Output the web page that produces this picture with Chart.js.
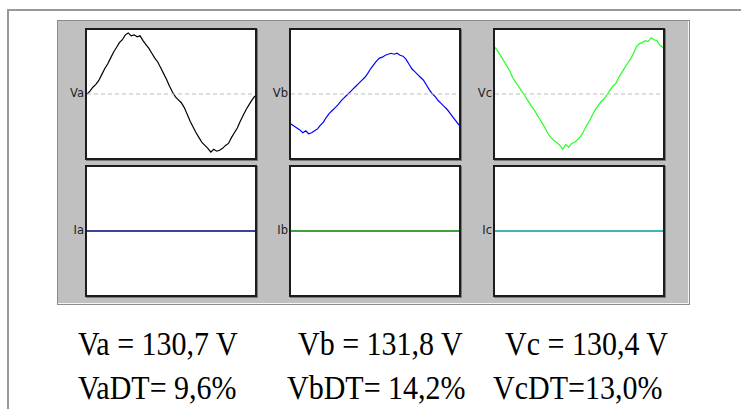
<!DOCTYPE html>
<html>
<head>
<meta charset="utf-8">
<script src="https://cdn.jsdelivr.net/npm/chart.js@4.4.1/dist/chart.umd.min.js"></script>
<style>
  body { margin: 0; width: 741px; height: 409px; background: #fff; position: relative; overflow: hidden; }
  .frameTop { position: absolute; left: 8px; top: 9px; width: 733px; height: 2px; background: #999; }
  .frameLeft { position: absolute; left: 7px; top: 9px; width: 2px; height: 400px; background: #999; }
  .panel { position: absolute; left: 57px; top: 20px; width: 631px; height: 283px; background: #c0c0c0;
           border: 1px solid #8c8c8c; box-shadow: inset -1px -1px 0 #f4f4f4; }
  .scope { position: absolute; width: 168px; height: 128px; border: 2px solid #1c1c1c; background: #fff;
           box-shadow: 1px 1px 0 #7a7a7a; }
  .scope canvas { display: block; }
  .lbl { position: absolute; font: 11.5px "DejaVu Sans", Verdana, sans-serif; color: #222; text-align: right; width: 26px; }
  .val { position: absolute; font: 30px "Liberation Serif", "Times New Roman", serif; color: #000; white-space: nowrap;
         transform: scaleY(1.12); transform-origin: 0 0; }
</style>
</head>
<body>
<div class="frameTop"></div>
<div class="frameLeft"></div>
<div class="panel"></div>
<div id="scopes"></div>

<div class="val" style="left:78px; top:325px;">Va = 130,7 V</div>
<div class="val" style="left:298px; top:325px;">Vb = 131,8 V</div>
<div class="val" style="left:505px; top:325px;">Vc = 130,4 V</div>
<div class="val" style="left:78px; top:369px;">VaDT= 9,6%</div>
<div class="val" style="left:287px; top:369px;">VbDT= 14,2%</div>
<div class="val" style="left:493px; top:369px;">VcDT=13,0%</div>

<script>
// voltage waveforms, one cycle, sampled every ~3px (arbitrary units, +-66 = full box)
const voltageA = [0, 3, 7, 10, 14, 20, 26, 31, 37, 43, 48, 53, 56, 61, 63, 60, 61, 59, 60, 55,
  51, 47, 42, 37, 33, 27, 21, 15, 8, 2, -3, -6, -9, -14, -21, -28, -34, -40, -45, -50,
  -53, -56, -60, -57, -59, -58, -56, -53, -51, -45, -40, -35, -28, -22, -16, -11, -6, -2];
const voltageB = [-31, -33, -35, -37, -40, -38, -41, -40, -38, -36, -32, -29, -24, -20, -17, -14, -11, -7, -4, -1,
  2, 5, 8, 11, 14, 17, 21, 26, 30, 34, 37, 38, 40, 41, 42, 41, 42, 40, 39, 36,
  31, 26, 23, 20, 17, 14, 9, 4, 0, -3, -7, -10, -13, -16, -20, -24, -28, -32];
const voltageC = [48, 44, 39, 34, 29, 24, 17, 12, 8, 3, -1, -6, -11, -15, -20, -25, -30, -35, -41, -45,
  -48, -50, -53, -57, -52, -55, -51, -50, -47, -44, -39, -33, -28, -22, -16, -12, -8, -5, -1, 4,
  8, 11, 17, 22, 27, 32, 36, 42, 49, 52, 53, 55, 54, 58, 56, 55, 50, 48];
// currents are flat (no load)
const currentA = [0, 0];
const currentB = [0, 0];
const currentC = [0, 0];
const midLine = [0, 0];

const voltLabels = ["Va", "Vb", "Vc"];
const currLabels = ["Ia", "Ib", "Ic"];
const voltColors = ["#000000", "#0000ff", "#22ff22"];
const currColors = ["#00007f", "#007f00", "#009a9a"];

const colLeft = [85, 289, 493];
const rowTop = [28, 165];

function toPoints(arr, span) {
    const step = span / (arr.length - 1);
    return arr.map((v, i) => ({ x: i * step, y: v }));
}

function makeScope(left, top, label, series, color, dashed) {
    const box = document.createElement("div");
    box.className = "scope";
    box.style.left = left + "px";
    box.style.top = top + "px";
    const canvas = document.createElement("canvas");
    canvas.width = 168;
    canvas.height = 128;
    canvas.style.width = "168px";
    canvas.style.height = "128px";
    box.appendChild(canvas);
    document.getElementById("scopes").appendChild(box);

    const lbl = document.createElement("div");
    lbl.className = "lbl";
    lbl.textContent = label;
    lbl.style.left = (left - 27) + "px";
    lbl.style.top = (top + 58) + "px";
    document.getElementById("scopes").appendChild(lbl);

    const datasets = [];
    if (dashed) {
        datasets.push({
            data: toPoints(midLine, 100),
            borderColor: "#bdbdbd",
            borderWidth: 1,
            borderDash: [4, 3],
            pointRadius: 0
        });
    }
    datasets.push({
        data: toPoints(series, 100),
        borderColor: color,
        borderWidth: dashed ? 1.2 : 1.6,
        pointRadius: 0,
        tension: 0
    });

    new Chart(canvas.getContext("2d"), {
        type: "line",
        data: { datasets: datasets },
        options: {
            responsive: false,
            animation: false,
            layout: { padding: 0 },
            plugins: { legend: { display: false }, tooltip: { enabled: false } },
            scales: {
                x: { type: "linear", min: 0, max: 100, display: false },
                y: { min: -66, max: 66, display: false }
            }
        }
    });
}

const voltSeries = [voltageA, voltageB, voltageC];
const currSeries = [currentA, currentB, currentC];
for (let i = 0; i < 3; i++) {
    makeScope(colLeft[i], rowTop[0], voltLabels[i], voltSeries[i], voltColors[i], true);
    makeScope(colLeft[i], rowTop[1], currLabels[i], currSeries[i], currColors[i], false);
}
</script>
</body>
</html>
